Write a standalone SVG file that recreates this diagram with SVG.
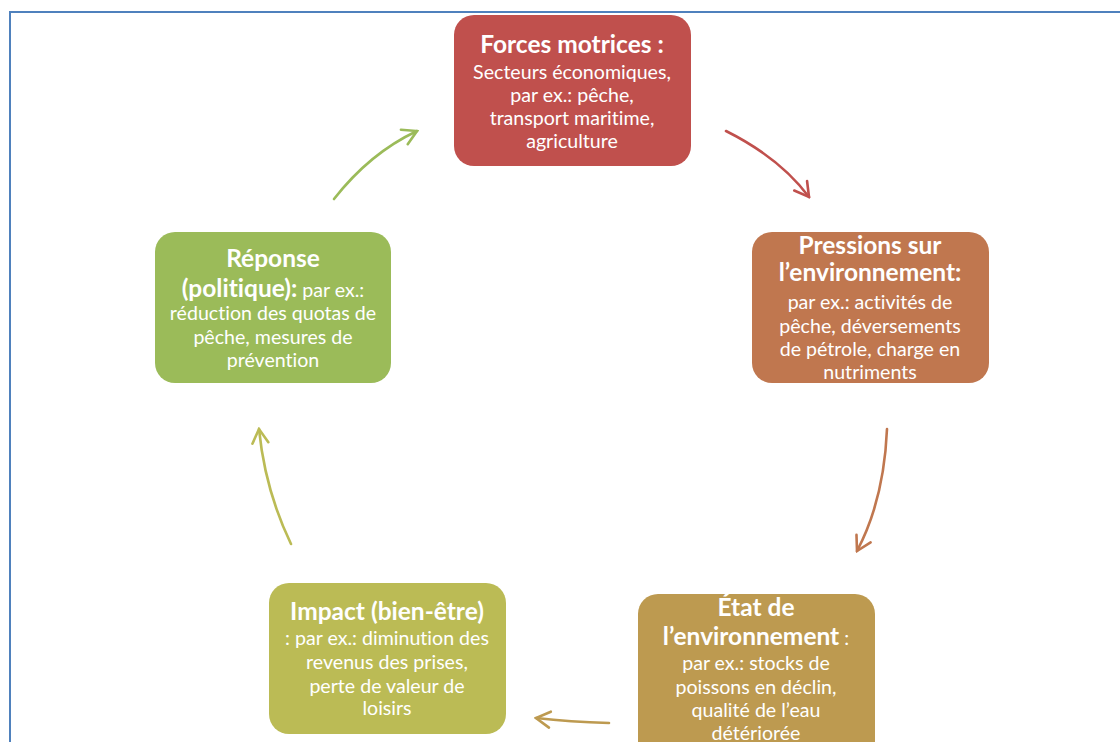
<svg xmlns="http://www.w3.org/2000/svg" width="1120" height="742" viewBox="0 0 1120 742">
<style>
text{font-family:Lato,"Open Sans","Liberation Sans",sans-serif;fill:#fff;text-anchor:middle;font-variant-ligatures:none}
.t{font-weight:bold;font-size:24.5px}
.b{font-size:19.6px}
.c{fill:none;stroke-width:2.6;stroke-linecap:round}
</style>
<defs>
<marker id="mr" viewBox="0 0 20 20" refX="18" refY="10" markerWidth="20" markerHeight="20" markerUnits="userSpaceOnUse" orient="auto"><path d="M4,2 L18,10 L4,18" fill="none" stroke="#C0504D" stroke-width="2.6" stroke-linecap="round"/></marker>
<marker id="mo" viewBox="0 0 20 20" refX="18" refY="10" markerWidth="20" markerHeight="20" markerUnits="userSpaceOnUse" orient="auto"><path d="M4,2 L18,10 L4,18" fill="none" stroke="#C0774F" stroke-width="2.6" stroke-linecap="round"/></marker>
<marker id="mg" viewBox="0 0 20 20" refX="18" refY="10" markerWidth="20" markerHeight="20" markerUnits="userSpaceOnUse" orient="auto"><path d="M4,2 L18,10 L4,18" fill="none" stroke="#BD9A50" stroke-width="2.6" stroke-linecap="round"/></marker>
<marker id="my" viewBox="0 0 20 20" refX="18" refY="10" markerWidth="20" markerHeight="20" markerUnits="userSpaceOnUse" orient="auto"><path d="M4,2 L18,10 L4,18" fill="none" stroke="#BBBB55" stroke-width="2.6" stroke-linecap="round"/></marker>
<marker id="mgr" viewBox="0 0 20 20" refX="18" refY="10" markerWidth="20" markerHeight="20" markerUnits="userSpaceOnUse" orient="auto"><path d="M4,2 L18,10 L4,18" fill="none" stroke="#9BBB59" stroke-width="2.6" stroke-linecap="round"/></marker>
</defs>
<rect width="1120" height="742" fill="#fff"/>
<path d="M10,742 L10,12 L1120,12" fill="none" stroke="#4F81BD" stroke-width="2"/>
<g id="connectors">
<path class="c" d="M726,131 Q780,158 809,197" stroke="#C0504D" marker-end="url(#mr)"/>
<path class="c" d="M887,429 Q884,500 857,551" stroke="#C0774F" marker-end="url(#mo)"/>
<path class="c" d="M609,723 Q570,722 536,718" stroke="#BD9A50" marker-end="url(#mg)"/>
<path class="c" d="M291,544 Q265,490 259,429" stroke="#BBBB55" marker-end="url(#my)"/>
<path class="c" d="M334,199 Q370,153 417,131" stroke="#9BBB59" marker-end="url(#mgr)"/>
</g>
<g id="forces">
<rect x="454" y="15" width="237" height="151" rx="20" fill="#C0504D"/>
<text class="t" x="572" y="53">Forces motrices :</text>
<text class="b" x="572" y="79">Secteurs économiques,</text>
<text class="b" x="572" y="102">par ex.: pêche,</text>
<text class="b" x="572" y="125">transport maritime,</text>
<text class="b" x="572" y="148">agriculture</text>
</g>
<g id="pressions">
<rect x="752" y="232" width="237" height="151" rx="20" fill="#C0774F"/>
<text class="t" x="870" y="254">Pressions sur</text>
<text class="t" x="870" y="281">l’environnement:</text>
<text class="b" x="870" y="309">par ex.: activités de</text>
<text class="b" x="870" y="333">pêche, déversements</text>
<text class="b" x="870" y="356">de pétrole, charge en</text>
<text class="b" x="870" y="379">nutriments</text>
</g>
<g id="etat">
<rect x="638" y="594" width="237" height="170" rx="20" fill="#BD9A50"/>
<text class="t" x="756" y="616">État de</text>
<text x="756" y="645"><tspan class="t">l’environnement</tspan><tspan class="b"> :</tspan></text>
<text class="b" x="756" y="670">par ex.: stocks de</text>
<text class="b" x="756" y="694">poissons en déclin,</text>
<text class="b" x="756" y="717">qualité de l’eau</text>
<text class="b" x="756" y="740">détériorée</text>
</g>
<g id="impact">
<rect x="269" y="583" width="237" height="151" rx="20" fill="#BBBB55"/>
<text class="t" x="387" y="620">Impact (bien-être)</text>
<text class="b" x="387" y="645">: par ex.: diminution des</text>
<text class="b" x="387" y="669">revenus des prises,</text>
<text class="b" x="387" y="693">perte de valeur de</text>
<text class="b" x="387" y="715">loisirs</text>
</g>
<g id="reponse">
<rect x="155" y="232" width="236" height="151" rx="20" fill="#9BBB59"/>
<text class="t" x="273" y="267">Réponse</text>
<text x="273" y="297"><tspan class="t">(politique):</tspan><tspan class="b"> par ex.:</tspan></text>
<text class="b" x="273" y="320">réduction des quotas de</text>
<text class="b" x="273" y="344">pêche, mesures de</text>
<text class="b" x="273" y="367">prévention</text>
</g>
</svg>
